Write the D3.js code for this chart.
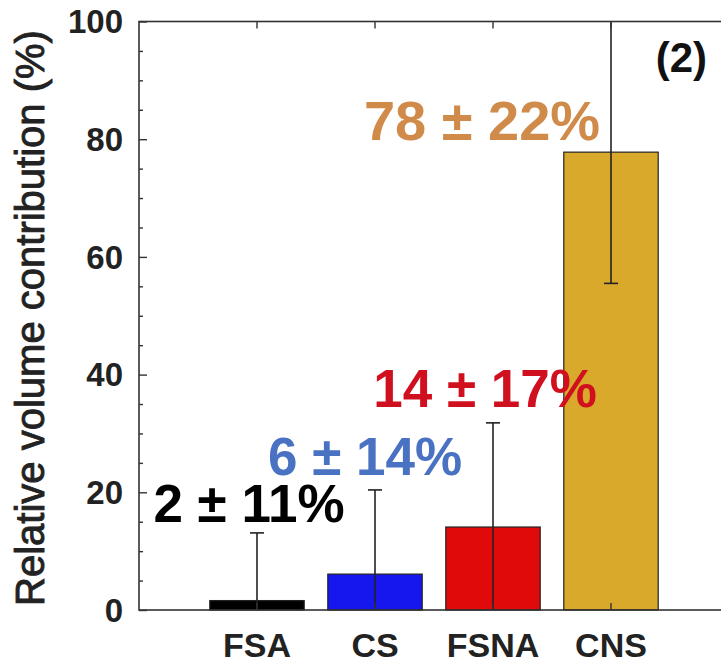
<!DOCTYPE html>
<html>
<head>
<meta charset="utf-8">
<script src="https://cdn.jsdelivr.net/npm/d3@7"></script>
<style>
  body { margin: 0; background: white; }
  text { font-family: "Liberation Sans", Arial, sans-serif; }
</style>
</head>
<body>
<script>
// values
const categories = ["FSA", "CS", "FSNA", "CNS"];
const means = [1.6, 6.1, 14.1, 77.8];
const errors = [11.5, 14.3, 17.7, 22.3];
const labels = ["2 \u00b1 11%", "6 \u00b1 14%", "14 \u00b1 17%", "78 \u00b1 22%"];
const yTicks = [0, 20, 40, 60, 80, 100];

const barColors = ["#000000", "#1616ee", "#e00a0a", "#d9a92b"];
const labelColors = ["#000000", "#4a72c2", "#d0101e", "#d08b4b"];
const labelOffsets = [[-8, -11], [-10, -15], [-8, -16], [-129, -12]]; // px from bar top / error cap
const labelSizes = [53, 53, 53, 56];

function draw() {
  let svg = d3.select("body").append("svg")
    .attr("width", 721)
    .attr("height", 666);

  let x = d3.scaleLinear().domain([0, 5]).range([139, 729]);
  let y = d3.scaleLinear().domain([0, 100]).range([610, 21.5]);
  let barW = (x(1) - x(0)) * 0.8;

  // bars
  svg.selectAll(".bar")
    .data(means)
    .enter()
    .append("rect")
    .attr("class", "bar")
    .attr("x", (d, i) => x(i + 1) - barW / 2)
    .attr("y", d => y(d))
    .attr("width", barW)
    .attr("height", d => y(0) - y(d))
    .attr("fill", (d, i) => barColors[i])
    .attr("stroke", "#222")
    .attr("stroke-width", 1.2);

  // error bars, clipped to the axis range
  let eb = svg.append("g").attr("stroke", "#222").attr("stroke-width", 1.6);
  means.forEach((m, i) => {
    let lo = Math.max(0, m - errors[i]), hi = Math.min(100, m + errors[i]);
    let cx = x(i + 1);
    eb.append("line").attr("x1", cx).attr("x2", cx).attr("y1", y(lo)).attr("y2", y(hi));
    if (m - errors[i] >= 0) eb.append("line").attr("x1", cx - 7).attr("x2", cx + 7).attr("y1", y(lo)).attr("y2", y(lo));
    if (m + errors[i] <= 100) eb.append("line").attr("x1", cx - 7).attr("x2", cx + 7).attr("y1", y(hi)).attr("y2", y(hi));
  });

  // frame (right side falls just off the picture)
  svg.append("rect")
    .attr("x", x(0)).attr("y", y(100))
    .attr("width", x(5) - x(0)).attr("height", y(0) - y(100))
    .attr("fill", "none").attr("stroke", "#333").attr("stroke-width", 1.6);

  // y axis, ticks inward
  let yAxis = svg.append("g").attr("transform", `translate(${x(0)},0)`)
    .call(d3.axisRight(y).tickValues(yTicks).tickSize(8).tickFormat(""));
  yAxis.select(".domain").remove();
  let yMinor = svg.append("g").attr("transform", `translate(${x(0)},0)`)
    .call(d3.axisRight(y).tickValues(d3.range(5, 100, 5).filter(v => v % 20)).tickSize(4).tickFormat(""));
  yMinor.select(".domain").remove();
  let yRight = svg.append("g").attr("transform", `translate(${x(5)},0)`)
    .call(d3.axisLeft(y).tickValues(d3.range(5, 100, 5)).tickSize(8).tickFormat(""));
  yRight.select(".domain").remove();
  svg.selectAll(".tick line").attr("stroke", "#333").attr("stroke-width", 1.4);

  svg.selectAll(".ylab")
    .data(yTicks)
    .enter()
    .append("text")
    .attr("x", 123)
    .attr("y", d => y(d))
    .attr("dy", "0.36em")
    .attr("text-anchor", "end")
    .attr("font-size", 33)
    .attr("font-weight", "bold")
    .attr("fill", "#222")
    .text(d => d);

  // x ticks on top and bottom at bar centres
  let xt = svg.append("g").attr("stroke", "#333").attr("stroke-width", 1.4);
  categories.forEach((c, i) => {
    xt.append("line").attr("x1", x(i + 1)).attr("x2", x(i + 1)).attr("y1", y(100)).attr("y2", y(100) + 7);
    xt.append("line").attr("x1", x(i + 1)).attr("x2", x(i + 1)).attr("y1", y(0)).attr("y2", y(0) - 7);
  });

  svg.selectAll(".xlab")
    .data(categories)
    .enter()
    .append("text")
    .attr("x", (d, i) => x(i + 1))
    .attr("y", 657)
    .attr("text-anchor", "middle")
    .attr("font-size", 34)
    .attr("font-weight", "bold")
    .attr("fill", "#222")
    .text(d => d);

  // value annotations
  svg.selectAll(".vlab")
    .data(labels)
    .enter()
    .append("text")
    .attr("x", (d, i) => x(i + 1) + labelOffsets[i][0])
    .attr("y", (d, i) => {
      let top = means[i] + errors[i];
      return (top < 100 ? y(top) : y(means[i])) + labelOffsets[i][1];
    })
    .attr("text-anchor", "middle")
    .attr("font-size", (d, i) => labelSizes[i])
    .attr("font-weight", "bold")
    .attr("fill", (d, i) => labelColors[i])
    .text(d => d);

  svg.append("text")
    .attr("x", 707).attr("y", 72)
    .attr("text-anchor", "end")
    .attr("font-size", 42)
    .attr("font-weight", "bold")
    .attr("fill", "#111")
    .text("(2)");

  // y title, slightly heavier than regular
  svg.append("text")
    .attr("transform", "translate(44,318) rotate(-90)")
    .attr("text-anchor", "middle")
    .attr("font-size", 40)
    .attr("fill", "#222")
    .attr("stroke", "#222")
    .attr("stroke-width", 0.9)
    .text("Relative volume contribution (%)");
}

document.addEventListener("DOMContentLoaded", draw);
</script>
</body>
</html>
